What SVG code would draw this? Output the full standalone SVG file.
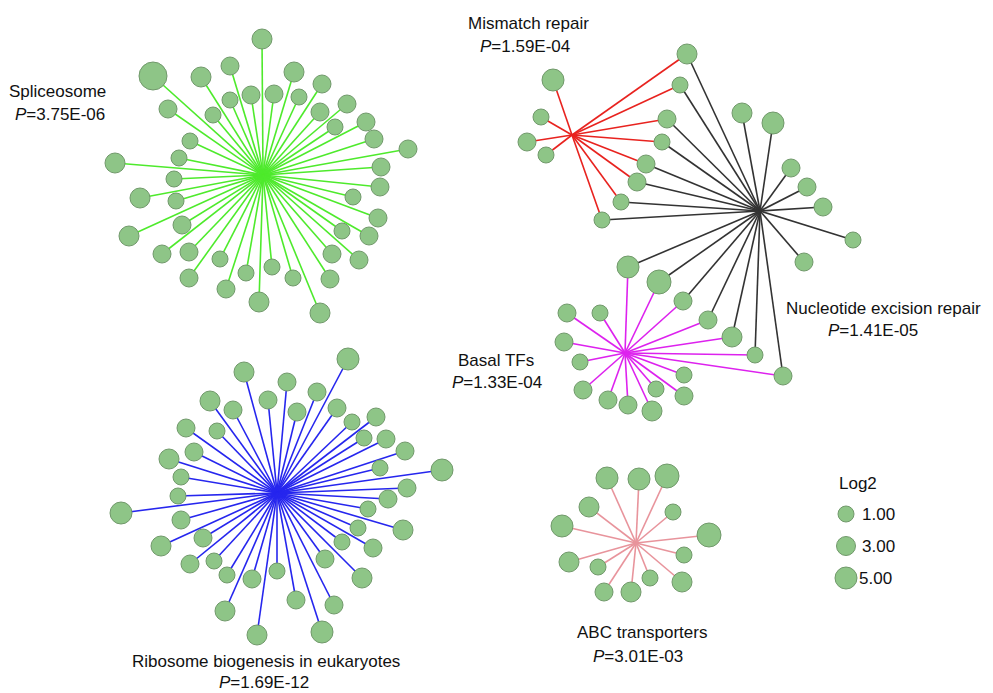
<svg xmlns="http://www.w3.org/2000/svg" width="993" height="693" viewBox="0 0 993 693">
<style>
  text { font-family: "Liberation Sans", Arial, sans-serif; font-size: 17px; fill: #111; }
  .node circle { fill: #8ec587; stroke: #71996b; stroke-width: 1; }
  .edges line { stroke-width: 1.6; }
  .sp line { stroke: #4eea2c; }
  .rb line { stroke: #2626ee; }
  .mm line { stroke: #e8231f; }
  .ner line { stroke: #333333; }
  .btf line { stroke: #dd22ee; }
  .abc line { stroke: #e8949c; }
</style>
<rect width="993" height="693" fill="#ffffff"/>

<!-- connectors -->
<g id="connectors" class="edges">
  <g class="sp">
    <line x1="263" y1="175" x2="262" y2="39"/><line x1="263" y1="175" x2="153" y2="76"/>
    <line x1="263" y1="175" x2="201" y2="77"/><line x1="263" y1="175" x2="230" y2="66"/>
    <line x1="263" y1="175" x2="294" y2="72"/><line x1="263" y1="175" x2="322" y2="84"/>
    <line x1="263" y1="175" x2="251" y2="95"/><line x1="263" y1="175" x2="274" y2="94"/>
    <line x1="263" y1="175" x2="230" y2="100"/><line x1="263" y1="175" x2="299" y2="97"/>
    <line x1="263" y1="175" x2="168" y2="109"/><line x1="263" y1="175" x2="213" y2="115"/>
    <line x1="263" y1="175" x2="320" y2="112"/><line x1="263" y1="175" x2="347" y2="104"/>
    <line x1="263" y1="175" x2="335" y2="127"/><line x1="263" y1="175" x2="366" y2="122"/>
    <line x1="263" y1="175" x2="374" y2="139"/><line x1="263" y1="175" x2="190" y2="141"/>
    <line x1="263" y1="175" x2="179" y2="158"/><line x1="263" y1="175" x2="408" y2="149"/>
    <line x1="263" y1="175" x2="381" y2="167"/><line x1="263" y1="175" x2="115" y2="163"/>
    <line x1="263" y1="175" x2="174" y2="179"/><line x1="263" y1="175" x2="140" y2="198"/>
    <line x1="263" y1="175" x2="176" y2="201"/><line x1="263" y1="175" x2="380" y2="187"/>
    <line x1="263" y1="175" x2="353" y2="197"/><line x1="263" y1="175" x2="129" y2="236"/>
    <line x1="263" y1="175" x2="182" y2="225"/><line x1="263" y1="175" x2="378" y2="218"/>
    <line x1="263" y1="175" x2="342" y2="231"/><line x1="263" y1="175" x2="369" y2="236"/>
    <line x1="263" y1="175" x2="162" y2="254"/><line x1="263" y1="175" x2="189" y2="252"/>
    <line x1="263" y1="175" x2="220" y2="259"/><line x1="263" y1="175" x2="332" y2="254"/>
    <line x1="263" y1="175" x2="359" y2="260"/><line x1="263" y1="175" x2="189" y2="278"/>
    <line x1="263" y1="175" x2="246" y2="273"/><line x1="263" y1="175" x2="272" y2="267"/>
    <line x1="263" y1="175" x2="293" y2="278"/><line x1="263" y1="175" x2="330" y2="279"/>
    <line x1="263" y1="175" x2="226" y2="289"/><line x1="263" y1="175" x2="259" y2="302"/>
    <line x1="263" y1="175" x2="320" y2="313"/>
  </g>
  <g class="rb">
    <line x1="277" y1="493" x2="348" y2="359"/><line x1="277" y1="493" x2="244" y2="372"/>
    <line x1="277" y1="493" x2="287" y2="382"/><line x1="277" y1="493" x2="210" y2="401"/>
    <line x1="277" y1="493" x2="268" y2="400"/><line x1="277" y1="493" x2="317" y2="392"/>
    <line x1="277" y1="493" x2="233" y2="410"/><line x1="277" y1="493" x2="297" y2="412"/>
    <line x1="277" y1="493" x2="337" y2="408"/><line x1="277" y1="493" x2="186" y2="428"/>
    <line x1="277" y1="493" x2="217" y2="431"/><line x1="277" y1="493" x2="352" y2="422"/>
    <line x1="277" y1="493" x2="376" y2="417"/><line x1="277" y1="493" x2="364" y2="438"/>
    <line x1="277" y1="493" x2="386" y2="439"/><line x1="277" y1="493" x2="194" y2="452"/>
    <line x1="277" y1="493" x2="169" y2="459"/><line x1="277" y1="493" x2="405" y2="451"/>
    <line x1="277" y1="493" x2="380" y2="468"/><line x1="277" y1="493" x2="442" y2="470"/>
    <line x1="277" y1="493" x2="181" y2="477"/><line x1="277" y1="493" x2="407" y2="488"/>
    <line x1="277" y1="493" x2="178" y2="496"/><line x1="277" y1="493" x2="388" y2="499"/>
    <line x1="277" y1="493" x2="121" y2="513"/><line x1="277" y1="493" x2="368" y2="509"/>
    <line x1="277" y1="493" x2="181" y2="520"/><line x1="277" y1="493" x2="358" y2="528"/>
    <line x1="277" y1="493" x2="403" y2="530"/><line x1="277" y1="493" x2="161" y2="546"/>
    <line x1="277" y1="493" x2="203" y2="538"/><line x1="277" y1="493" x2="342" y2="542"/>
    <line x1="277" y1="493" x2="373" y2="548"/><line x1="277" y1="493" x2="190" y2="564"/>
    <line x1="277" y1="493" x2="214" y2="561"/><line x1="277" y1="493" x2="325" y2="559"/>
    <line x1="277" y1="493" x2="227" y2="575"/><line x1="277" y1="493" x2="252" y2="579"/>
    <line x1="277" y1="493" x2="277" y2="571"/><line x1="277" y1="493" x2="362" y2="578"/>
    <line x1="277" y1="493" x2="225" y2="611"/><line x1="277" y1="493" x2="296" y2="600"/>
    <line x1="277" y1="493" x2="334" y2="605"/><line x1="277" y1="493" x2="257" y2="635"/>
    <line x1="277" y1="493" x2="322" y2="632"/>
  </g>
  <g class="ner">
    <line x1="760" y1="211" x2="687" y2="54"/><line x1="760" y1="211" x2="680" y2="85"/>
    <line x1="760" y1="211" x2="667" y2="119"/><line x1="760" y1="211" x2="662" y2="142"/>
    <line x1="760" y1="211" x2="646" y2="164"/><line x1="760" y1="211" x2="637" y2="182"/>
    <line x1="760" y1="211" x2="621" y2="202"/><line x1="760" y1="211" x2="602" y2="220"/>
    <line x1="760" y1="211" x2="742" y2="113"/><line x1="760" y1="211" x2="773" y2="123"/>
    <line x1="760" y1="211" x2="791" y2="168"/><line x1="760" y1="211" x2="807" y2="187"/>
    <line x1="760" y1="211" x2="823" y2="207"/><line x1="760" y1="211" x2="853" y2="240"/>
    <line x1="760" y1="211" x2="804" y2="262"/><line x1="760" y1="211" x2="628" y2="267"/>
    <line x1="760" y1="211" x2="659" y2="282"/><line x1="760" y1="211" x2="683" y2="301"/>
    <line x1="760" y1="211" x2="708" y2="320"/><line x1="760" y1="211" x2="732" y2="337"/>
    <line x1="760" y1="211" x2="755" y2="355"/><line x1="760" y1="211" x2="783" y2="376"/>
  </g>
  <g class="mm">
    <line x1="572" y1="135" x2="553" y2="80"/><line x1="572" y1="135" x2="541" y2="117"/>
    <line x1="572" y1="135" x2="527" y2="142"/><line x1="572" y1="135" x2="546" y2="155"/>
    <line x1="572" y1="135" x2="687" y2="54"/><line x1="572" y1="135" x2="680" y2="85"/>
    <line x1="572" y1="135" x2="667" y2="119"/><line x1="572" y1="135" x2="662" y2="142"/>
    <line x1="572" y1="135" x2="646" y2="164"/><line x1="572" y1="135" x2="637" y2="182"/>
    <line x1="572" y1="135" x2="621" y2="202"/><line x1="572" y1="135" x2="602" y2="220"/>
  </g>
  <g class="btf">
    <line x1="625" y1="353" x2="628" y2="267"/><line x1="625" y1="353" x2="659" y2="282"/>
    <line x1="625" y1="353" x2="683" y2="301"/><line x1="625" y1="353" x2="708" y2="320"/>
    <line x1="625" y1="353" x2="732" y2="337"/><line x1="625" y1="353" x2="755" y2="355"/>
    <line x1="625" y1="353" x2="783" y2="376"/><line x1="625" y1="353" x2="567" y2="313"/>
    <line x1="625" y1="353" x2="600" y2="313"/><line x1="625" y1="353" x2="564" y2="342"/>
    <line x1="625" y1="353" x2="580" y2="362"/><line x1="625" y1="353" x2="583" y2="390"/>
    <line x1="625" y1="353" x2="608" y2="400"/><line x1="625" y1="353" x2="628" y2="405"/>
    <line x1="625" y1="353" x2="652" y2="411"/><line x1="625" y1="353" x2="656" y2="389"/>
    <line x1="625" y1="353" x2="684" y2="375"/><line x1="625" y1="353" x2="684" y2="396"/>
  </g>
  <g class="abc">
    <line x1="636" y1="543" x2="607" y2="478"/><line x1="636" y1="543" x2="639" y2="479"/>
    <line x1="636" y1="543" x2="667" y2="476"/><line x1="636" y1="543" x2="589" y2="507"/>
    <line x1="636" y1="543" x2="673" y2="512"/><line x1="636" y1="543" x2="562" y2="526"/>
    <line x1="636" y1="543" x2="709" y2="535"/><line x1="636" y1="543" x2="684" y2="555"/>
    <line x1="636" y1="543" x2="569" y2="562"/><line x1="636" y1="543" x2="598" y2="567"/>
    <line x1="636" y1="543" x2="650" y2="578"/><line x1="636" y1="543" x2="682" y2="582"/>
    <line x1="636" y1="543" x2="604" y2="592"/><line x1="636" y1="543" x2="631" y2="592"/>
  </g>
</g>

<!-- Spliceosome genes -->
<g id="spliceosome-genes">
  <g id="sp01" class="node"><circle cx="262" cy="39" r="10"/></g>
  <g id="sp02" class="node"><circle cx="153" cy="76" r="14"/></g>
  <g id="sp03" class="node"><circle cx="201" cy="77" r="10"/></g>
  <g id="sp04" class="node"><circle cx="230" cy="66" r="9"/></g>
  <g id="sp05" class="node"><circle cx="294" cy="72" r="10"/></g>
  <g id="sp06" class="node"><circle cx="322" cy="84" r="9"/></g>
  <g id="sp07" class="node"><circle cx="251" cy="95" r="9"/></g>
  <g id="sp08" class="node"><circle cx="274" cy="94" r="9"/></g>
  <g id="sp09" class="node"><circle cx="230" cy="100" r="8"/></g>
  <g id="sp10" class="node"><circle cx="299" cy="97" r="8"/></g>
  <g id="sp11" class="node"><circle cx="168" cy="109" r="9"/></g>
  <g id="sp12" class="node"><circle cx="213" cy="115" r="8"/></g>
  <g id="sp13" class="node"><circle cx="320" cy="112" r="9"/></g>
  <g id="sp14" class="node"><circle cx="347" cy="104" r="9"/></g>
  <g id="sp15" class="node"><circle cx="335" cy="127" r="8"/></g>
  <g id="sp16" class="node"><circle cx="366" cy="122" r="9"/></g>
  <g id="sp17" class="node"><circle cx="374" cy="139" r="9"/></g>
  <g id="sp18" class="node"><circle cx="190" cy="141" r="8"/></g>
  <g id="sp19" class="node"><circle cx="179" cy="158" r="8"/></g>
  <g id="sp20" class="node"><circle cx="408" cy="149" r="9"/></g>
  <g id="sp21" class="node"><circle cx="381" cy="167" r="9"/></g>
  <g id="sp22" class="node"><circle cx="115" cy="163" r="10"/></g>
  <g id="sp23" class="node"><circle cx="174" cy="179" r="8"/></g>
  <g id="sp24" class="node"><circle cx="140" cy="198" r="10"/></g>
  <g id="sp25" class="node"><circle cx="176" cy="201" r="8"/></g>
  <g id="sp26" class="node"><circle cx="380" cy="187" r="9"/></g>
  <g id="sp27" class="node"><circle cx="353" cy="197" r="8"/></g>
  <g id="sp28" class="node"><circle cx="129" cy="236" r="10"/></g>
  <g id="sp29" class="node"><circle cx="182" cy="225" r="9"/></g>
  <g id="sp30" class="node"><circle cx="378" cy="218" r="9"/></g>
  <g id="sp31" class="node"><circle cx="342" cy="231" r="8"/></g>
  <g id="sp32" class="node"><circle cx="369" cy="236" r="9"/></g>
  <g id="sp33" class="node"><circle cx="162" cy="254" r="9"/></g>
  <g id="sp34" class="node"><circle cx="189" cy="252" r="9"/></g>
  <g id="sp35" class="node"><circle cx="220" cy="259" r="8"/></g>
  <g id="sp36" class="node"><circle cx="332" cy="254" r="9"/></g>
  <g id="sp37" class="node"><circle cx="359" cy="260" r="9"/></g>
  <g id="sp38" class="node"><circle cx="189" cy="278" r="9"/></g>
  <g id="sp39" class="node"><circle cx="246" cy="273" r="8"/></g>
  <g id="sp40" class="node"><circle cx="272" cy="267" r="8"/></g>
  <g id="sp41" class="node"><circle cx="293" cy="278" r="8"/></g>
  <g id="sp42" class="node"><circle cx="330" cy="279" r="9"/></g>
  <g id="sp43" class="node"><circle cx="226" cy="289" r="9"/></g>
  <g id="sp44" class="node"><circle cx="259" cy="302" r="10"/></g>
  <g id="sp45" class="node"><circle cx="320" cy="313" r="10"/></g>
</g>

<!-- Ribosome biogenesis genes -->
<g id="ribosome-genes">
  <g id="rb01" class="node"><circle cx="348" cy="359" r="11"/></g>
  <g id="rb02" class="node"><circle cx="244" cy="372" r="10"/></g>
  <g id="rb03" class="node"><circle cx="287" cy="382" r="9"/></g>
  <g id="rb04" class="node"><circle cx="210" cy="401" r="10"/></g>
  <g id="rb05" class="node"><circle cx="268" cy="400" r="9"/></g>
  <g id="rb06" class="node"><circle cx="317" cy="392" r="9"/></g>
  <g id="rb07" class="node"><circle cx="233" cy="410" r="9"/></g>
  <g id="rb08" class="node"><circle cx="297" cy="412" r="9"/></g>
  <g id="rb09" class="node"><circle cx="337" cy="408" r="9"/></g>
  <g id="rb10" class="node"><circle cx="186" cy="428" r="9"/></g>
  <g id="rb11" class="node"><circle cx="217" cy="431" r="8"/></g>
  <g id="rb12" class="node"><circle cx="352" cy="422" r="8"/></g>
  <g id="rb13" class="node"><circle cx="376" cy="417" r="9"/></g>
  <g id="rb14" class="node"><circle cx="364" cy="438" r="8"/></g>
  <g id="rb15" class="node"><circle cx="386" cy="439" r="9"/></g>
  <g id="rb16" class="node"><circle cx="194" cy="452" r="9"/></g>
  <g id="rb17" class="node"><circle cx="169" cy="459" r="10"/></g>
  <g id="rb18" class="node"><circle cx="405" cy="451" r="9"/></g>
  <g id="rb19" class="node"><circle cx="380" cy="468" r="8"/></g>
  <g id="rb20" class="node"><circle cx="442" cy="470" r="11"/></g>
  <g id="rb21" class="node"><circle cx="181" cy="477" r="8"/></g>
  <g id="rb22" class="node"><circle cx="407" cy="488" r="9"/></g>
  <g id="rb23" class="node"><circle cx="178" cy="496" r="8"/></g>
  <g id="rb24" class="node"><circle cx="388" cy="499" r="9"/></g>
  <g id="rb25" class="node"><circle cx="121" cy="513" r="11"/></g>
  <g id="rb26" class="node"><circle cx="368" cy="509" r="8"/></g>
  <g id="rb27" class="node"><circle cx="181" cy="520" r="9"/></g>
  <g id="rb28" class="node"><circle cx="358" cy="528" r="8"/></g>
  <g id="rb29" class="node"><circle cx="403" cy="530" r="10"/></g>
  <g id="rb30" class="node"><circle cx="161" cy="546" r="10"/></g>
  <g id="rb31" class="node"><circle cx="203" cy="538" r="9"/></g>
  <g id="rb32" class="node"><circle cx="342" cy="542" r="8"/></g>
  <g id="rb33" class="node"><circle cx="373" cy="548" r="9"/></g>
  <g id="rb34" class="node"><circle cx="190" cy="564" r="9"/></g>
  <g id="rb35" class="node"><circle cx="214" cy="561" r="8"/></g>
  <g id="rb36" class="node"><circle cx="325" cy="559" r="9"/></g>
  <g id="rb37" class="node"><circle cx="227" cy="575" r="8"/></g>
  <g id="rb38" class="node"><circle cx="252" cy="579" r="9"/></g>
  <g id="rb39" class="node"><circle cx="277" cy="571" r="8"/></g>
  <g id="rb40" class="node"><circle cx="362" cy="578" r="10"/></g>
  <g id="rb41" class="node"><circle cx="225" cy="611" r="10"/></g>
  <g id="rb42" class="node"><circle cx="296" cy="600" r="9"/></g>
  <g id="rb43" class="node"><circle cx="334" cy="605" r="9"/></g>
  <g id="rb44" class="node"><circle cx="257" cy="635" r="10"/></g>
  <g id="rb45" class="node"><circle cx="322" cy="632" r="11"/></g>
</g>

<!-- Mismatch repair / NER / Basal TFs genes -->
<g id="repair-genes">
  <g id="mm01" class="node"><circle cx="553" cy="80" r="11"/></g>
  <g id="mm02" class="node"><circle cx="541" cy="117" r="8"/></g>
  <g id="mm03" class="node"><circle cx="527" cy="142" r="9"/></g>
  <g id="mm04" class="node"><circle cx="546" cy="155" r="8"/></g>
  <g id="sh01" class="node"><circle cx="687" cy="54" r="10"/></g>
  <g id="sh02" class="node"><circle cx="680" cy="85" r="8"/></g>
  <g id="sh03" class="node"><circle cx="667" cy="119" r="9"/></g>
  <g id="sh04" class="node"><circle cx="662" cy="142" r="8"/></g>
  <g id="sh05" class="node"><circle cx="646" cy="164" r="9"/></g>
  <g id="sh06" class="node"><circle cx="637" cy="182" r="9"/></g>
  <g id="sh07" class="node"><circle cx="621" cy="202" r="8"/></g>
  <g id="sh08" class="node"><circle cx="602" cy="220" r="8"/></g>
  <g id="ner01" class="node"><circle cx="742" cy="113" r="10"/></g>
  <g id="ner02" class="node"><circle cx="773" cy="123" r="11"/></g>
  <g id="ner03" class="node"><circle cx="791" cy="168" r="9"/></g>
  <g id="ner04" class="node"><circle cx="807" cy="187" r="9"/></g>
  <g id="ner05" class="node"><circle cx="823" cy="207" r="9"/></g>
  <g id="ner06" class="node"><circle cx="853" cy="240" r="8"/></g>
  <g id="ner07" class="node"><circle cx="804" cy="262" r="9"/></g>
  <g id="tf01" class="node"><circle cx="628" cy="267" r="11"/></g>
  <g id="tf02" class="node"><circle cx="659" cy="282" r="12"/></g>
  <g id="tf03" class="node"><circle cx="683" cy="301" r="9"/></g>
  <g id="tf04" class="node"><circle cx="708" cy="320" r="9"/></g>
  <g id="tf05" class="node"><circle cx="732" cy="337" r="10"/></g>
  <g id="tf06" class="node"><circle cx="755" cy="355" r="8"/></g>
  <g id="tf07" class="node"><circle cx="783" cy="376" r="9"/></g>
  <g id="btf01" class="node"><circle cx="567" cy="313" r="9"/></g>
  <g id="btf02" class="node"><circle cx="600" cy="313" r="8"/></g>
  <g id="btf03" class="node"><circle cx="564" cy="342" r="9"/></g>
  <g id="btf04" class="node"><circle cx="580" cy="362" r="8"/></g>
  <g id="btf05" class="node"><circle cx="583" cy="390" r="9"/></g>
  <g id="btf06" class="node"><circle cx="608" cy="400" r="9"/></g>
  <g id="btf07" class="node"><circle cx="628" cy="405" r="9"/></g>
  <g id="btf08" class="node"><circle cx="652" cy="411" r="10"/></g>
  <g id="btf09" class="node"><circle cx="656" cy="389" r="8"/></g>
  <g id="btf10" class="node"><circle cx="684" cy="375" r="8"/></g>
  <g id="btf11" class="node"><circle cx="684" cy="396" r="9"/></g>
</g>

<!-- ABC transporter genes -->
<g id="abc-genes">
  <g id="abc01" class="node"><circle cx="607" cy="478" r="11"/></g>
  <g id="abc02" class="node"><circle cx="639" cy="479" r="11"/></g>
  <g id="abc03" class="node"><circle cx="667" cy="476" r="12"/></g>
  <g id="abc04" class="node"><circle cx="589" cy="507" r="10"/></g>
  <g id="abc05" class="node"><circle cx="673" cy="512" r="8"/></g>
  <g id="abc06" class="node"><circle cx="562" cy="526" r="11"/></g>
  <g id="abc07" class="node"><circle cx="709" cy="535" r="12"/></g>
  <g id="abc08" class="node"><circle cx="684" cy="555" r="8"/></g>
  <g id="abc09" class="node"><circle cx="569" cy="562" r="10"/></g>
  <g id="abc10" class="node"><circle cx="598" cy="567" r="8"/></g>
  <g id="abc11" class="node"><circle cx="650" cy="578" r="8"/></g>
  <g id="abc12" class="node"><circle cx="682" cy="582" r="10"/></g>
  <g id="abc13" class="node"><circle cx="604" cy="592" r="9"/></g>
  <g id="abc14" class="node"><circle cx="631" cy="592" r="10"/></g>
</g>

<!-- pathway labels -->
<g id="labels">
  <text x="9" y="97">Spliceosome</text>
  <text x="15" y="120"><tspan font-style="italic">P</tspan>=3.75E-06</text>
  <text x="468" y="29">Mismatch repair</text>
  <text x="480" y="52"><tspan font-style="italic">P</tspan>=1.59E-04</text>
  <text x="786" y="314">Nucleotide excision repair</text>
  <text x="828" y="336"><tspan font-style="italic">P</tspan>=1.41E-05</text>
  <text x="458" y="366">Basal TFs</text>
  <text x="452" y="388"><tspan font-style="italic">P</tspan>=1.33E-04</text>
  <text x="132" y="667">Ribosome biogenesis in eukaryotes</text>
  <text x="219" y="688"><tspan font-style="italic">P</tspan>=1.69E-12</text>
  <text x="577" y="638">ABC transporters</text>
  <text x="593" y="662"><tspan font-style="italic">P</tspan>=3.01E-03</text>
</g>

<!-- size legend -->
<g id="legend">
  <text x="839" y="489">Log2</text>
  <g id="lg1" class="node"><circle cx="846" cy="514" r="8"/></g>
  <g id="lg3" class="node"><circle cx="846" cy="546" r="9.5"/></g>
  <g id="lg5" class="node"><circle cx="846" cy="578" r="11"/></g>
  <text x="862" y="520">1.00</text>
  <text x="862" y="552">3.00</text>
  <text x="859" y="584">5.00</text>
</g>
</svg>
